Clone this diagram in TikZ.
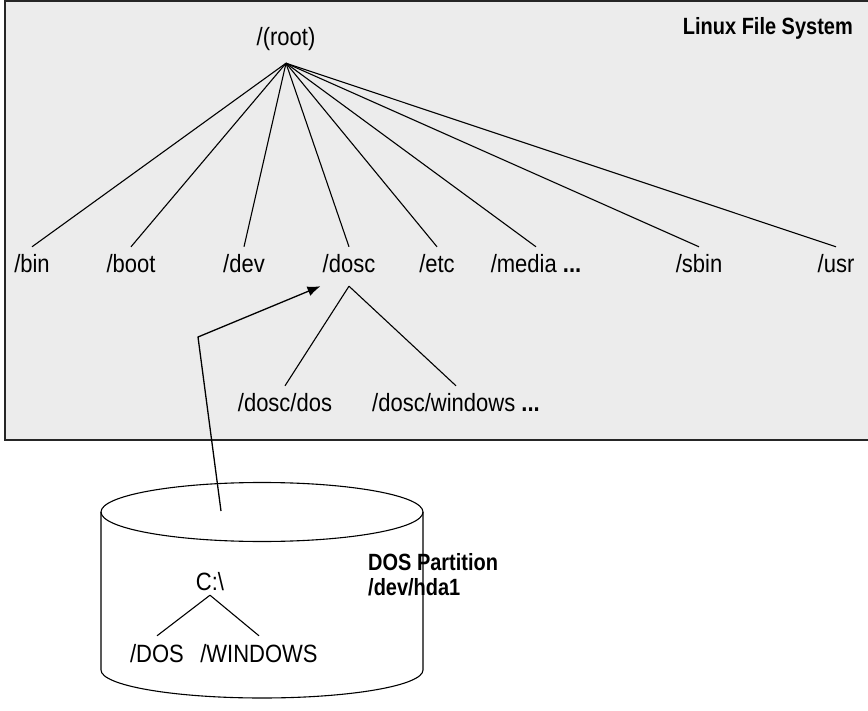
\documentclass[tikz,border=0pt]{standalone}
\usepackage{fontspec}
\usetikzlibrary{arrows.meta}
\newfontfamily\dirfont[FakeStretch=0.88]{Liberation Sans}
\newfontfamily\rotfont[FakeStretch=0.85]{Liberation Sans}
\definecolor{panel}{HTML}{ECECEC}
\tikzset{
  carpeta/.style={font=\dirfont\fontsize{25}{27}\selectfont, anchor=base, inner xsep=2pt, inner ysep=10pt, text height=16pt, text depth=3pt},
  rotulo/.style={font=\rotfont\fontsize{23.5}{23}\selectfont\bfseries, inner sep=0pt, align=left},
  rama/.style={line width=1.1pt},
  flecha/.style={line width=1.3pt, -{Latex[length=13pt,width=10pt]}},
}

\begin{document}
\begin{tikzpicture}[x=1pt,y=-1pt]
  \useasboundingbox (0,0) rectangle (868,711);
  % panel of the Linux tree
  \draw[fill=panel, draw=black!85, line width=2pt] (4.5,1.5) rectangle (880,440);
  \node[rotulo, anchor=base east] (titulo) at (853,35) {Linux File System};
  \node[carpeta, inner ysep=14pt] (raiz) at (286,46) {/(root)};
  \foreach \n/\x in {bin/32, boot/131, dev/244, dosc/349, etc/437, sbin/699, usr/836}
    \node[carpeta] (\n) at (\x,273) {/\n};
  \node[carpeta] (media) at (536,273) {/media {\bfseries...}};
  \foreach \n in {bin,boot,dev,dosc,etc,media,sbin,usr}
    \draw[rama] (raiz.south) -- (\n.north);
  % subfolders of /dosc
  \node[carpeta] (doscdos) at (285,412) {/dosc/dos};
  \node[carpeta] (doscwin) at (456,412) {/dosc/windows {\bfseries...}};
  \draw[rama] (dosc.south) -- (doscdos.north);
  \draw[rama] (dosc.south) -- (doscwin.north);
  % DOS partition
  \draw[rama] (101,512) -- (101,670) arc[start angle=180, end angle=360, x radius=161pt, y radius=28pt] -- (423,512);
  \draw[rama] (262,512) ellipse [x radius=161pt, y radius=29.5pt];
  \node[carpeta, inner ysep=2pt] (c) at (210,590) {C:\textbackslash};
  \node[carpeta] (dos) at (157,662) {/DOS};
  \node[carpeta] (windows) at (259,662) {/WINDOWS};
  \draw[rama] (c.south) -- (dos.north);
  \draw[rama] (c.south) -- (windows.north);
  \node[rotulo, anchor=base west] (particion) at (368,595) {DOS Partition\\[2pt]/dev/hda1};
  % mount arrow
  \coordinate (montaje) at (221,511);
  \coordinate (codo) at (198,337);
  \draw[flecha] (montaje) -- (codo) -- (dosc.south west);
\end{tikzpicture}
\end{document}
